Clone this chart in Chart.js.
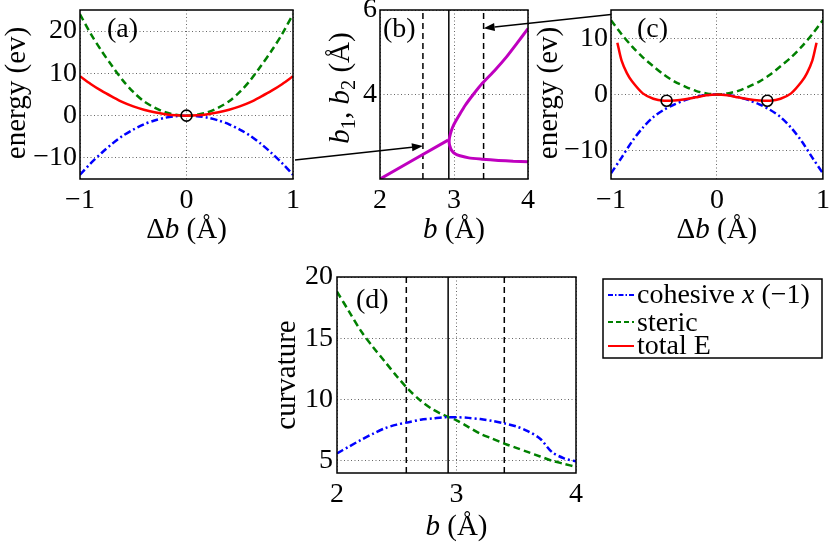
<!DOCTYPE html>
<html>
<head>
<meta charset="utf-8">
<script src="https://cdn.jsdelivr.net/npm/chart.js@4.4.1/dist/chart.umd.min.js"></script>
<style>
  body { margin: 0; background: #fff; }
  #wrap { position: relative; width: 830px; height: 542px; }
  #wrap canvas { position: absolute; left: 0; top: 0; }
</style>
</head>
<body>
<div id="wrap">
  <canvas id="ca" width="830" height="542"></canvas>
  <canvas id="cb" width="830" height="542"></canvas>
  <canvas id="cc" width="830" height="542"></canvas>
  <canvas id="cd" width="830" height="542"></canvas>
</div>
<script>
// ---- data ----
// (a) and (c): energy vs. delta b
const dbA = [-1, -0.9, -0.8, -0.7, -0.6, -0.5, -0.4, -0.3, -0.2, -0.1, 0, 0.1, 0.2, 0.3, 0.4, 0.5, 0.6, 0.7, 0.8, 0.9, 1];
const stericA = [24, 19.4, 15.4, 11.8, 8.4, 5.6, 3.4, 1.9, 0.8, 0.2, 0, 0.2, 0.8, 1.9, 3.4, 5.6, 8.4, 11.8, 15.4, 19.4, 24];
const cohesiveA = [-14, -11.3, -8.9, -6.7, -4.8, -3.3, -2.05, -1.15, -0.5, -0.12, 0, -0.12, -0.5, -1.15, -2.05, -3.3, -4.8, -6.7, -8.9, -11.3, -14];
const totalA = [9.3, 7.5, 5.9, 4.5, 3.2, 2.2, 1.4, 0.8, 0.35, 0.08, 0, 0.08, 0.35, 0.8, 1.4, 2.2, 3.2, 4.5, 5.9, 7.5, 9.3];
const minAX = [0];
const minAY = [0];

const dbC = [-1, -0.9, -0.8, -0.7, -0.6, -0.5, -0.4, -0.3, -0.2, -0.1, 0, 0.1, 0.2, 0.3, 0.4, 0.5, 0.6, 0.7, 0.8, 0.9, 1];
const stericC = [13.2, 10.7, 8.5, 6.6, 5.0, 3.5, 2.3, 1.4, 0.65, 0.2, 0, 0.2, 0.65, 1.4, 2.3, 3.5, 5.0, 6.6, 8.5, 10.7, 13.2];
const cohesiveC = [-14, -11.2, -8.3, -5.9, -4.0, -2.7, -1.75, -1.0, -0.45, -0.1, 0, -0.1, -0.45, -1.0, -1.75, -2.7, -4.0, -5.9, -8.3, -11.2, -14];
const totalCX = [-0.94, -0.9, -0.85, -0.8, -0.7, -0.6, -0.5, -0.4, -0.3, -0.2, -0.1, 0, 0.1, 0.2, 0.3, 0.4, 0.5, 0.6, 0.7, 0.8, 0.85, 0.9, 0.94];
const totalC = [9.2, 6.0, 3.8, 2.3, 0.2, -0.75, -1.1, -1.05, -0.85, -0.5, -0.15, 0, -0.15, -0.5, -0.85, -1.05, -1.1, -0.75, 0.2, 2.3, 3.8, 6.0, 9.2];
const minCX = [-0.475, 0.475];
const minCY = [-1.1, -1.1];

// (b): b1, b2 vs. b
const lowB = [2, 2.92];
const lowB12 = [2, 2.92];
const forkB = [4.0, 3.85, 3.71, 3.55, 3.38, 3.26, 3.15, 3.08, 3.02, 2.98, 2.95, 2.935, 2.94, 2.97, 3.02, 3.08, 3.2, 3.38, 3.6, 3.8, 4.0];
const forkB12 = [5.56, 5.21, 4.89, 4.57, 4.26, 4.0, 3.74, 3.54, 3.36, 3.22, 3.06, 2.92, 2.80, 2.67, 2.59, 2.55, 2.5, 2.47, 2.44, 2.42, 2.41];

// (d): curvature vs. b
const bD = [2, 2.1, 2.2, 2.3, 2.4, 2.5, 2.6, 2.7, 2.8, 2.9, 3.0, 3.1, 3.2, 3.3, 3.4, 3.5, 3.6, 3.7, 3.8, 3.9, 4.0];
const stericD = [18.8, 17.2, 15.6, 14.3, 13.1, 11.9, 10.8, 9.9, 9.2, 8.7, 8.3, 7.75, 7.2, 6.8, 6.4, 6.05, 5.7, 5.35, 5.0, 4.75, 4.5];
const cohesiveD = [5.6, 6.15, 6.7, 7.2, 7.65, 7.95, 8.15, 8.35, 8.45, 8.55, 8.55, 8.5, 8.4, 8.25, 8.05, 7.8, 7.4, 6.8, 5.7, 5.2, 4.95];

// marked b values (vertical lines in b and d)
const bCuts = [2.58, 3.40];
const bSplit = 2.93;

// tick values
const ticksAX = [-1, 0, 1], ticksAY = [-10, 0, 10, 20];
const ticksBX = [2, 3, 4], ticksBY = [4, 6];
const ticksCX = [-1, 0, 1], ticksCY = [-10, 0, 10];
const ticksDX = [2, 3, 4], ticksDY = [5, 10, 15, 20];

// ---- helpers ----
const FONT = '"Liberation Serif", "Times New Roman", serif';
const BLUE = '#0000ff', GREEN = '#008000', RED = '#ff0000', MAG = '#bf00bf';
const TICK = 28, TITLE = 29;

const pts = (xs, ys) => xs.map((x, i) => ({ x: x, y: ys[i] }));
const fmt = v => (v < 0 ? '\u2212' + (-v) : String(v));

function curve(data, color, dash) {
  return { data: data, borderColor: color, borderWidth: 2.5, borderDash: dash || [],
           pointRadius: 0, tension: 0.3, fill: false };
}
function vline(x, lo, hi, dash) {
  return { data: [{ x: x, y: lo }, { x: x, y: hi }], borderColor: '#000', borderWidth: 1.5,
           borderDash: dash, pointRadius: 0, fill: false };
}
function rings(data) {
  return { data: data, showLine: false, pointRadius: 5.5, pointBorderWidth: 1.6,
           pointBorderColor: '#000', pointBackgroundColor: 'rgba(0,0,0,0)' };
}

function axis(pos, min, max, ticks, size, pad) {
  return {
    type: 'linear', position: pos, min: min, max: max,
    afterBuildTicks: s => { s.ticks = ticks.map(v => ({ value: v })); },
    afterFit: s => {
      if (pos === 'left') { s.width = size; s.paddingTop = 0; s.paddingBottom = 0; }
      else { s.height = size; s.paddingLeft = 0; s.paddingRight = 0; }
    },
    grid: { color: '#666', lineWidth: 1, drawTicks: false },
    border: { display: false, dash: [1, 2.5] },
    ticks: { color: '#000', autoSkip: false, maxRotation: 0, padding: pad,
             font: { family: FONT, size: TICK, lineHeight: 1.2 }, callback: v => fmt(v) }
  };
}

// draw text pieces [text, style] where style is '', 'i' (italic) or 's' (subscript)
function rich(ctx, parts, x, y, size, align) {
  const fontOf = st => (st === 'i' ? 'italic ' : '') + (st === 's' ? size * 0.7 : size) + 'px ' + FONT;
  const widths = parts.map(p => { ctx.font = fontOf(p[1]); return ctx.measureText(p[0]).width; });
  const total = widths.reduce((a, b) => a + b, 0);
  let cx = align === 'left' ? x : x - total / 2;
  ctx.textAlign = 'left';
  ctx.textBaseline = 'alphabetic';
  parts.forEach((p, i) => {
    ctx.font = fontOf(p[1]);
    ctx.fillText(p[0], cx, p[1] === 's' ? y + size * 0.22 : y);
    cx += widths[i];
  });
}

const deltaB = [['\u0394', ''], ['b', 'i'], [' (\u00c5)', '']];
const plainB = [['b', 'i'], [' (\u00c5)', '']];
const energy = [['energy (ev)', '']];
const b12 = [['b', 'i'], ['1', 's'], [', ', ''], ['b', 'i'], ['2', 's'], [' (\u00c5)', '']];

const decor = {
  ca: { letter: '(a)', lx: 27, ly: 27, xTitle: deltaB, xBase: 238, yTitle: energy, yBase: 25, yMid: 93 },
  cb: { letter: '(b)', lx: 3, ly: 27, xTitle: plainB, xBase: 238, yTitle: b12, yBase: 349, yMid: 88 },
  cc: { letter: '(c)', lx: 26, ly: 27, xTitle: deltaB, xBase: 238, yTitle: energy, yBase: 557, yMid: 93 },
  cd: { letter: '(d)', lx: 19, ly: 31, xTitle: plainB, xBase: 535, yTitle: [['curvature', '']], yBase: 295, yMid: 375 }
};

const panelDecor = {
  id: 'panelDecor',
  afterDraw(chart) {
    const d = decor[chart.canvas.id];
    const a = chart.chartArea;
    const ctx = chart.ctx;
    ctx.save();
    ctx.strokeStyle = '#000';
    ctx.lineWidth = 1.5;
    ctx.setLineDash([]);
    ctx.strokeRect(a.left, a.top, a.right - a.left, a.bottom - a.top);
    ctx.fillStyle = '#000';
    rich(ctx, [[d.letter, '']], a.left + d.lx, a.top + d.ly, 28, 'left');
    rich(ctx, d.xTitle, (a.left + a.right) / 2, d.xBase, TITLE);
    ctx.translate(d.yBase, d.yMid);
    ctx.rotate(-Math.PI / 2);
    rich(ctx, d.yTitle, 0, 0, TITLE);
    ctx.restore();
  }
};

function makeChart(id, datasets, xs, ys, box) {
  return new Chart(document.getElementById(id), {
    type: 'line',
    data: { datasets: datasets },
    options: {
      responsive: false, animation: false, devicePixelRatio: 1,
      events: [],
      layout: { padding: { left: box.l - box.w, right: 830 - box.r, top: box.t, bottom: 542 - box.b - 40 } },
      plugins: { legend: { display: false }, tooltip: { enabled: false } },
      scales: {
        x: axis('bottom', xs[0], xs[1], xs[2], 40, box.px),
        y: axis('left', ys[0], ys[1], ys[2], box.w, box.py)
      }
    },
    plugins: [panelDecor]
  });
}

Chart.defaults.color = '#000';

const chartA = makeChart('ca', [
  rings(pts(minAX, minAY)),
  curve(pts(dbA, totalA), RED),
  curve(pts(dbA, stericA), GREEN, [7, 4]),
  curve(pts(dbA, cohesiveA), BLUE, [7, 3, 2, 3])
], [-1, 1, ticksAX], [-15, 25, ticksAY], { l: 80, r: 293, t: 10, b: 179, w: 80, px: 5, py: 3 });

const magFork = curve(pts(forkB, forkB12), MAG);
magFork.tension = 0.2;
magFork.borderWidth = 3;
const magLow = curve(pts(lowB, lowB12), MAG);
magLow.borderWidth = 3;

const chartB = makeChart('cb', [
  magFork,
  magLow,
  vline(bSplit, 2, 6, []),
  vline(bCuts[0], 2, 6, [6, 4]),
  vline(bCuts[1], 2, 6, [6, 4])
], [2, 4, ticksBX], [2, 6, ticksBY], { l: 380, r: 528, t: 10, b: 179, w: 50, px: 5, py: 3 });

const chartC = makeChart('cc', [
  rings(pts(minCX, minCY)),
  curve(pts(totalCX, totalC), RED),
  curve(pts(dbC, stericC), GREEN, [7, 4]),
  curve(pts(dbC, cohesiveC), BLUE, [7, 3, 2, 3])
], [-1, 1, ticksCX], [-15, 15, ticksCY], { l: 611, r: 823, t: 10, b: 179, w: 75, px: 5, py: 3 });

// legend box and arrows are drawn once every panel exists
const overlay = {
  id: 'overlay',
  afterDraw(chart) {
    const ctx = chart.ctx;
    ctx.save();
    // legend
    ctx.fillStyle = '#fff';
    ctx.fillRect(603, 279, 219, 79);
    ctx.strokeStyle = '#000';
    ctx.lineWidth = 1.5;
    ctx.strokeRect(603, 279, 219, 79);
    const rows = [
      { parts: [['cohesive ', ''], ['x', 'i'], [' (\u22121)', '']], color: BLUE, dash: [5, 2, 1.5, 2], y: 295, base: 303 },
      { parts: [['steric', '']], color: GREEN, dash: [5, 3], y: 322, base: 331 },
      { parts: [['total E', '']], color: RED, dash: [], y: 346, base: 354 }
    ];
    rows.forEach(r => {
      ctx.strokeStyle = r.color;
      ctx.lineWidth = 2;
      ctx.setLineDash(r.dash);
      ctx.beginPath();
      ctx.moveTo(608, r.y);
      ctx.lineTo(634, r.y);
      ctx.stroke();
      ctx.setLineDash([]);
      ctx.fillStyle = '#000';
      rich(ctx, r.parts, 637, r.base, 28, 'left');
    });
    // arrows from panels (a) and (c) to the marked b values in (b)
    const bx = chartB.scales.x, by = chartB.scales.y;
    const arrows = [
      [chartA.scales.x.getPixelForValue(1) + 2, chartA.scales.y.getPixelForValue(-10.5), bx.getPixelForValue(bCuts[0]), by.getPixelForValue(2.78)],
      [chartC.scales.x.getPixelForValue(-1), chartC.scales.y.getPixelForValue(14.2), bx.getPixelForValue(bCuts[1]), by.getPixelForValue(5.57)]
    ];
    ctx.strokeStyle = '#000';
    ctx.fillStyle = '#000';
    ctx.lineWidth = 1.3;
    arrows.forEach(([x0, y0, x1, y1]) => {
      const ang = Math.atan2(y1 - y0, x1 - x0);
      const len = 11, half = 4;
      const hx = x1 - len * Math.cos(ang), hy = y1 - len * Math.sin(ang);
      ctx.beginPath();
      ctx.moveTo(x0, y0);
      ctx.lineTo(hx, hy);
      ctx.stroke();
      ctx.beginPath();
      ctx.moveTo(x1, y1);
      ctx.lineTo(hx + half * Math.sin(ang), hy - half * Math.cos(ang));
      ctx.lineTo(hx - half * Math.sin(ang), hy + half * Math.cos(ang));
      ctx.closePath();
      ctx.fill();
    });
    ctx.restore();
  }
};

const chartD = new Chart(document.getElementById('cd'), {
  type: 'line',
  data: {
    datasets: [
      curve(pts(bD, cohesiveD), BLUE, [7, 3, 2, 3]),
      curve(pts(bD, stericD), GREEN, [7, 4]),
      vline(bSplit, 4, 20, []),
      vline(bCuts[0], 4, 20, [6, 4]),
      vline(bCuts[1], 4, 20, [6, 4])
    ]
  },
  options: {
    responsive: false, animation: false, devicePixelRatio: 1,
    events: [],
    layout: { padding: { left: 337 - 60, right: 830 - 576, top: 277, bottom: 542 - 473 - 40 } },
    plugins: { legend: { display: false }, tooltip: { enabled: false } },
    scales: {
      x: axis('bottom', 2, 4, ticksDX, 40, 5),
      y: axis('left', 4, 20, ticksDY, 60, 4)
    }
  },
  plugins: [panelDecor, overlay]
});
</script>
</body>
</html>
